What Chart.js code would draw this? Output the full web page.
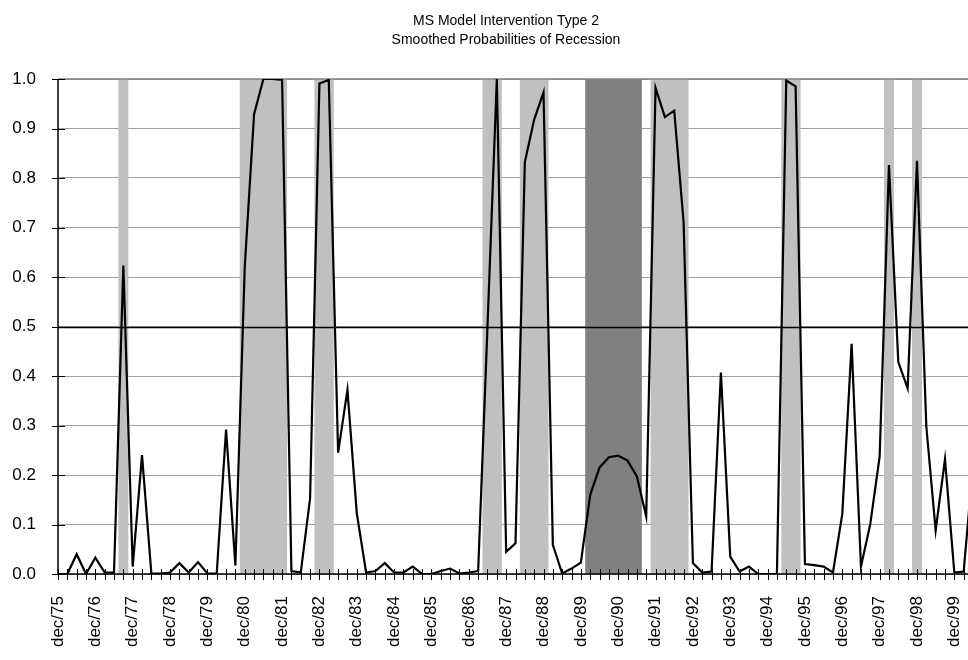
<!DOCTYPE html>
<html><head><meta charset="utf-8">
<script src="https://cdn.jsdelivr.net/npm/chart.js@4/dist/chart.umd.min.js"></script>
<style>html,body{margin:0;padding:0;overflow:hidden;background:#fff}</style>
</head><body>
<canvas id="c" width="973" height="660"></canvas>
<script>
const titleLines = ["MS Model Intervention Type 2", "Smoothed Probabilities of Recession"];

// Quarterly categories, dec/75 .. jun/00
const monthNames = ["dec", "mar", "jun", "sep"];
const quarters = [];
for (let i = 0; i < 99; i++) {
  const q = i % 4;
  const yr = q === 0 ? 75 + i / 4 : 76 + Math.floor(i / 4);
  quarters.push(monthNames[q] + "/" + String(yr % 100).padStart(2, "0"));
}

// Smoothed probability of recession
const probability = [
  0.000, 0.000, 0.040, 0.000, 0.033, 0.003, 0.003, 0.623, 0.015, 0.240,
  0.001, 0.001, 0.003, 0.022, 0.003, 0.024, 0.001, 0.001, 0.292, 0.017,
  0.620, 0.929, 1.000, 1.000, 0.998, 0.006, 0.003, 0.153, 0.991, 0.998,
  0.245, 0.372, 0.123, 0.003, 0.006, 0.022, 0.003, 0.003, 0.015, 0.000,
  0.000, 0.006, 0.011, 0.001, 0.003, 0.006, 0.500, 1.000, 0.045, 0.062,
  0.832, 0.918, 0.973, 0.059, 0.001, 0.011, 0.023, 0.160, 0.215, 0.236,
  0.239, 0.229, 0.197, 0.116, 0.982, 0.923, 0.936, 0.712, 0.022, 0.003,
  0.005, 0.407, 0.035, 0.005, 0.015, 0.000, 0.000, 0.000, 0.997, 0.985,
  0.020, 0.018, 0.015, 0.003, 0.121, 0.465, 0.015, 0.101, 0.237, 0.826,
  0.428, 0.375, 0.835, 0.298, 0.088, 0.232, 0.003, 0.005, 0.220
];

// Recession periods (first and last quarter)
const lightRecessions = [
  ["sep/77", "sep/77"], ["dec/80", "dec/81"], ["dec/82", "mar/83"],
  ["jun/87", "sep/87"], ["jun/88", "dec/88"], ["dec/91", "sep/92"],
  ["jun/95", "sep/95"], ["mar/98", "mar/98"], ["dec/98", "dec/98"]
];
const darkRecessions = [["mar/90", "jun/91"]];

const threshold = 0.5;
const yTickValues = [0, 0.1, 0.2, 0.3, 0.4, 0.5, 0.6, 0.7, 0.8, 0.9, 1.0];

function bandFlags(periods) {
  const flags = quarters.map(() => null);
  periods.forEach(([a, b]) => {
    const s = quarters.indexOf(a), e = quarters.indexOf(b);
    for (let i = s; i <= e; i++) flags[i] = 1;
  });
  return flags;
}

const FONT = "'Liberation Sans', Arial, sans-serif";

const overlay = {
  id: 'overlay',
  beforeDatasetDraw(chart, args) {
    if (args.index !== 0) return;
    const {ctx, chartArea: a, scales: {x, y}} = chart;
    ctx.save();
    // threshold line
    const ty = Math.round(y.getPixelForValue(threshold)) + 0.5;
    ctx.strokeStyle = '#000'; ctx.lineWidth = 1.3;
    ctx.beginPath(); ctx.moveTo(a.left, ty); ctx.lineTo(a.right, ty); ctx.stroke();
    // top border
    ctx.strokeStyle = '#808080'; ctx.lineWidth = 1.5;
    const top = y.getPixelForValue(1);
    ctx.beginPath(); ctx.moveTo(a.left, top); ctx.lineTo(a.right, top); ctx.stroke();
    // axes
    ctx.strokeStyle = '#000'; ctx.lineWidth = 1.5;
    const bottom = y.getPixelForValue(0);
    ctx.beginPath(); ctx.moveTo(a.left, top); ctx.lineTo(a.left, bottom); ctx.lineTo(a.right, bottom); ctx.stroke();
    // cross ticks
    ctx.lineWidth = 1;
    ctx.beginPath();
    quarters.forEach((q, i) => {
      const px = Math.round(x.getPixelForValue(i)) + 0.5;
      ctx.moveTo(px, bottom - 5); ctx.lineTo(px, bottom + 6);
    });
    yTickValues.forEach(v => {
      const py = Math.round(y.getPixelForValue(v)) + 0.5;
      ctx.moveTo(a.left - 6, py); ctx.lineTo(a.left + 7, py);
    });
    ctx.stroke();
    ctx.restore();
  },
  afterDraw(chart) {
    const {ctx} = chart;
    ctx.save();
    ctx.fillStyle = '#000';
    ctx.font = '14px ' + FONT;
    ctx.textAlign = 'center';
    ctx.textBaseline = 'middle';
    ctx.fillText(titleLines[0], 506, 21);
    ctx.fillText(titleLines[1], 506, 40);
    ctx.restore();
  }
};

new Chart(document.getElementById('c'), {
  type: 'bar',
  data: {
    labels: quarters,
    datasets: [
      {
        type: 'line', label: 'Probability', data: probability,
        borderColor: '#000', borderWidth: 2.2, pointRadius: 0, tension: 0,
        fill: false, order: 0
      },
      {
        type: 'bar', label: 'Recession', data: bandFlags(lightRecessions),
        backgroundColor: '#c0c0c0', borderWidth: 0, grouped: false,
        barPercentage: 1, categoryPercentage: 1, order: 1
      },
      {
        type: 'bar', label: 'Recession 2', data: bandFlags(darkRecessions),
        backgroundColor: '#808080', borderWidth: 0, grouped: false,
        barPercentage: 1, categoryPercentage: 1, order: 2
      }
    ]
  },
  options: {
    responsive: false,
    animation: false,
    devicePixelRatio: 1,
    layout: {padding: {top: 79, left: 0, right: 0, bottom: 0}},
    plugins: {legend: {display: false}, tooltip: {enabled: false}, title: {display: false}},
    scales: {
      x: {
        type: 'category', offset: false,
        grid: {drawOnChartArea: false, drawTicks: false, display: false},
        border: {display: false},
        ticks: {
          autoSkip: false, minRotation: 90, maxRotation: 90, padding: 22,
          color: '#000', font: {family: FONT, size: 17},
          callback: (v, i) => quarters[i].startsWith('dec') ? quarters[i] : ''
        },
        afterFit: s => { s.height = 86; s.paddingLeft = 0; s.paddingRight = 0; }
      },
      y: {
        min: 0, max: 1,
        grid: {color: '#a0a0a0', lineWidth: 1, drawTicks: false},
        border: {display: false},
        ticks: {
          stepSize: 0.1, padding: 22, color: '#000',
          font: {family: FONT, size: 17},
          callback: v => Number(v).toFixed(1)
        },
        afterFit: s => { s.width = 58; s.paddingTop = 0; s.paddingBottom = 0; }
      }
    }
  },
  plugins: [overlay]
});
</script>
</body></html>
